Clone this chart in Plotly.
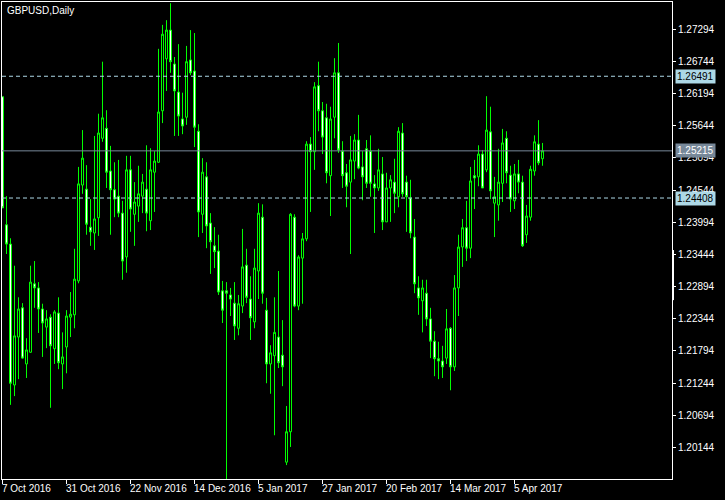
import plotly.graph_objects as go

# ---- data ----
tick_bars = [0, 16, 32, 48, 64, 80, 96, 112, 128]
tick_dates = ["7 Oct 2016", "31 Oct 2016", "22 Nov 2016", "14 Dec 2016", "5 Jan 2017",
              "27 Jan 2017", "20 Feb 2017", "14 Mar 2017", "5 Apr 2017"]
price_ticks = [1.27294, 1.26744, 1.26194, 1.25644, 1.25094, 1.24544, 1.23994,
               1.23444, 1.22894, 1.22344, 1.21794, 1.21244, 1.20694, 1.20144]

opens = [1.2614, 1.2395, 1.2362, 1.2121, 1.2203, 1.2253, 1.2157, 1.2177, 1.2294, 1.2287,
         1.2251, 1.2220, 1.2237, 1.2183, 1.2244, 1.2157, 1.2186, 1.2237, 1.2241, 1.2299,
         1.2463, 1.2456, 1.2391, 1.2381, 1.2407, 1.2543, 1.2560, 1.2487, 1.2455, 1.2444,
         1.2415, 1.2340, 1.2489, 1.2413, 1.2427, 1.2444, 1.2456, 1.2402, 1.2485, 1.2502,
         1.2590, 1.2679, 1.2728, 1.2670, 1.2622, 1.2576, 1.2579, 1.2677, 1.2658, 1.2555,
         1.2413, 1.2477, 1.2398, 1.2359, 1.2350, 1.2282, 1.2282, 1.2275, 1.2261, 1.2218,
         1.2256, 1.2326, 1.2268, 1.2229, 1.2316, 1.2408, 1.2249, 1.2157, 1.2171, 1.2203,
         1.2172, 1.1989, 1.2041, 1.2408, 1.2256, 1.2338, 1.2371, 1.2533, 1.2520, 1.2633,
         1.2590, 1.2578, 1.2479, 1.2579, 1.2655, 1.2521, 1.2484, 1.2468, 1.2504, 1.2540,
         1.2494, 1.2525, 1.2521, 1.2465, 1.2458, 1.2482, 1.2400, 1.2458, 1.2468, 1.2443,
         1.2552, 1.2468, 1.2441, 1.2374, 1.2287, 1.2265, 1.2278, 1.2234, 1.2196, 1.2166,
         1.2162, 1.2167, 1.2218, 1.2152, 1.2287, 1.2357, 1.2390, 1.2355, 1.2479, 1.2477,
         1.2516, 1.2489, 1.2554, 1.2432, 1.2429, 1.2466, 1.2543, 1.2480, 1.2436, 1.2482,
         1.2468, 1.2378, 1.2408, 1.2487, 1.2533, 1.2508]
highs = [1.2614, 1.2444, 1.2372, 1.2325, 1.2271, 1.2261, 1.2201, 1.2325, 1.2333, 1.2297,
         1.2260, 1.2249, 1.2242, 1.2249, 1.2271, 1.2211, 1.2249, 1.2280, 1.2354, 1.2494,
         1.2557, 1.2497, 1.2439, 1.2547, 1.2585, 1.2674, 1.2591, 1.2530, 1.2502, 1.2506,
         1.2436, 1.2513, 1.2513, 1.2468, 1.2496, 1.2482, 1.2531, 1.2526, 1.2521, 1.2696,
         1.2737, 1.2745, 1.2774, 1.2682, 1.2704, 1.2621, 1.2701, 1.2728, 1.2723, 1.2567,
         1.2509, 1.2502, 1.2415, 1.2391, 1.2378, 1.2299, 1.2297, 1.2287, 1.2297, 1.2275,
         1.2388, 1.2354, 1.2307, 1.2354, 1.2432, 1.2430, 1.2270, 1.2189, 1.2271, 1.2316,
         1.2232, 1.2085, 1.2415, 1.2413, 1.2343, 1.2381, 1.2538, 1.2545, 1.2639, 1.2674,
         1.2605, 1.2602, 1.2597, 1.2680, 1.2706, 1.2538, 1.2499, 1.2547, 1.2550, 1.2583,
         1.2521, 1.2540, 1.2548, 1.2480, 1.2525, 1.2511, 1.2484, 1.2480, 1.2508, 1.2562,
         1.2569, 1.2479, 1.2472, 1.2405, 1.2307, 1.2301, 1.2301, 1.2253, 1.2213, 1.2195,
         1.2188, 1.2251, 1.2220, 1.2309, 1.2378, 1.2405, 1.2436, 1.2494, 1.2506, 1.2531,
         1.2523, 1.2615, 1.2597, 1.2477, 1.2525, 1.2559, 1.2555, 1.2496, 1.2499, 1.2506,
         1.2479, 1.2429, 1.2496, 1.2548, 1.2574, 1.2535]
lows = [1.2424, 1.2345, 1.2087, 1.2102, 1.2131, 1.2166, 1.2133, 1.2176, 1.2253, 1.2210,
        1.2169, 1.2184, 1.2082, 1.2157, 1.2148, 1.2114, 1.2141, 1.2203, 1.2218, 1.2295,
        1.2448, 1.2378, 1.2359, 1.2352, 1.2376, 1.2537, 1.2458, 1.2378, 1.2408, 1.2408,
        1.2301, 1.2313, 1.2383, 1.2359, 1.2400, 1.2415, 1.2384, 1.2386, 1.2417, 1.2501,
        1.2569, 1.2624, 1.2655, 1.2547, 1.2547, 1.2550, 1.2566, 1.2651, 1.2528, 1.2374,
        1.2381, 1.2355, 1.2311, 1.2321, 1.2275, 1.2227, 1.1940, 1.2239, 1.2198, 1.2206,
        1.2244, 1.2261, 1.2198, 1.2218, 1.2268, 1.2260, 1.2124, 1.2106, 1.2035, 1.2150,
        1.2119, 1.1984, 1.2015, 1.2254, 1.2249, 1.2260, 1.2367, 1.2417, 1.2489, 1.2555,
        1.2516, 1.2466, 1.2410, 1.2543, 1.2518, 1.2458, 1.2425, 1.2345, 1.2473, 1.2490,
        1.2437, 1.2458, 1.2443, 1.2381, 1.2453, 1.2386, 1.2400, 1.2400, 1.2415, 1.2425,
        1.2443, 1.2383, 1.2372, 1.2278, 1.2241, 1.2211, 1.2222, 1.2167, 1.2136, 1.2131,
        1.2133, 1.2157, 1.2112, 1.2145, 1.2239, 1.2323, 1.2333, 1.2338, 1.2422, 1.2461,
        1.2458, 1.2485, 1.2439, 1.2374, 1.2402, 1.2434, 1.2466, 1.2417, 1.2422, 1.2449,
        1.2357, 1.2364, 1.2402, 1.2479, 1.2497, 1.2496]
closes = [1.2424, 1.2362, 1.2124, 1.2205, 1.2251, 1.2167, 1.2181, 1.2297, 1.2287, 1.2251,
          1.2227, 1.2234, 1.2188, 1.2246, 1.2159, 1.2169, 1.2239, 1.2242, 1.2302, 1.2465,
          1.2509, 1.2396, 1.2383, 1.2405, 1.2552, 1.2578, 1.2485, 1.2455, 1.2439, 1.2415,
          1.2333, 1.2489, 1.2422, 1.2434, 1.2448, 1.2468, 1.2415, 1.2489, 1.2504, 1.2588,
          1.2721, 1.2728, 1.2674, 1.2624, 1.2581, 1.2564, 1.2674, 1.2655, 1.2562, 1.2417,
          1.2485, 1.2393, 1.2366, 1.2349, 1.2280, 1.2249, 1.2278, 1.2268, 1.2222, 1.2260,
          1.2323, 1.2271, 1.2236, 1.2321, 1.2415, 1.2278, 1.2157, 1.2176, 1.2211, 1.2159,
          1.2152, 1.2041, 1.2413, 1.2256, 1.2340, 1.2371, 1.2533, 1.2520, 1.2631, 1.2590,
          1.2545, 1.2484, 1.2576, 1.2655, 1.2523, 1.2479, 1.2461, 1.2506, 1.2540, 1.2492,
          1.2477, 1.2466, 1.2466, 1.2458, 1.2489, 1.2400, 1.2458, 1.2472, 1.2449, 1.2555,
          1.2448, 1.2443, 1.2381, 1.2294, 1.2270, 1.2287, 1.2234, 1.2196, 1.2166, 1.2162,
          1.2152, 1.2217, 1.2152, 1.2287, 1.2357, 1.2390, 1.2355, 1.2470, 1.2475, 1.2516,
          1.2458, 1.2557, 1.2453, 1.2443, 1.2468, 1.2535, 1.2484, 1.2439, 1.2482, 1.2468,
          1.2359, 1.2410, 1.2490, 1.2537, 1.2501, 1.25215]

bars = list(range(len(opens)))
level_upper = 1.26491
level_lower = 1.24408
bid = 1.25215

FONT = "Liberation Sans"
LIME = "#00ff00"
LBLUE = "#add8e6"
SLATE = "#778899"

fig = go.Figure()
fig.add_trace(go.Candlestick(
    x=bars, open=opens, high=highs, low=lows, close=closes,
    increasing=dict(line=dict(color=LIME, width=1), fillcolor="#000000"),
    decreasing=dict(line=dict(color=LIME, width=1), fillcolor="#ffffff"),
    whiskerwidth=0, hoverinfo="skip", showlegend=False,
))

for lvl, col, dash in [(level_upper, LBLUE, "4px,3px"), (level_lower, LBLUE, "4px,3px"),
                       (bid, SLATE, "solid")]:
    fig.add_shape(type="line", xref="paper", x0=0, x1=1, yref="y", y0=lvl, y1=lvl,
                  line=dict(color=col, width=1, dash=dash), layer="above")

# small thick segment on the price-scale border
fig.add_shape(type="rect", xref="paper", x0=1.0, x1=1.003, yref="paper",
              y0=0.375, y1=0.48, line=dict(width=0), fillcolor="#ffffff", layer="above")

for lvl, bg, fg in [(level_upper, LBLUE, "#000000"), (bid, SLATE, "#ffffff"),
                    (level_lower, LBLUE, "#000000")]:
    fig.add_annotation(xref="paper", x=1.0045, xanchor="left", yref="y", y=lvl,
                       yanchor="middle", text=f"{lvl:.5f}", showarrow=False,
                       bgcolor=bg, borderpad=1,
                       font=dict(family=FONT, size=10, color=fg))

for b, t in zip(tick_bars, tick_dates):
    fig.add_annotation(xref="x", x=b, xanchor="left", yref="paper", y=0, yanchor="top",
                       yshift=-2, xshift=-3, text=t, showarrow=False,
                       font=dict(family=FONT, size=10, color="#ffffff"))

fig.add_annotation(xref="paper", x=0, xanchor="left", xshift=3, yref="paper", y=1,
                   yanchor="top", yshift=-1, text="GBPUSD,Daily", showarrow=False,
                   font=dict(family=FONT, size=10, color="#ffffff"))

fig.update_layout(
    width=725, height=500,
    margin=dict(l=2, r=53, t=2, b=21, autoexpand=False),
    paper_bgcolor="#000000", plot_bgcolor="#000000",
    boxgap=0.5, boxgroupgap=0,
    showlegend=False,
    xaxis=dict(range=[-0.125, 167.375], showgrid=False, zeroline=False,
               showline=True, linecolor="#ffffff", linewidth=1, mirror=True,
               ticks="outside", ticklen=4, tickcolor="#ffffff", tickwidth=1,
               tickmode="array", tickvals=tick_bars, showticklabels=False,
               rangeslider=dict(visible=False), automargin=False),
    yaxis=dict(range=[1.19602, 1.27761], side="right", showgrid=False, zeroline=False,
               showline=True, linecolor="#ffffff", linewidth=1, mirror=True,
               ticks="outside", ticklen=3, tickcolor="#ffffff", tickwidth=1,
               tickmode="array", tickvals=price_ticks, automargin=False,
               ticktext=[f"{v:.5f}" for v in price_ticks],
               tickfont=dict(family=FONT, size=10, color="#ffffff")),
)

fig.write_html(
    "out.html",
    config={"displayModeBar": False},
    post_script="document.body.style.margin='0';document.body.style.background='#000';",
)
